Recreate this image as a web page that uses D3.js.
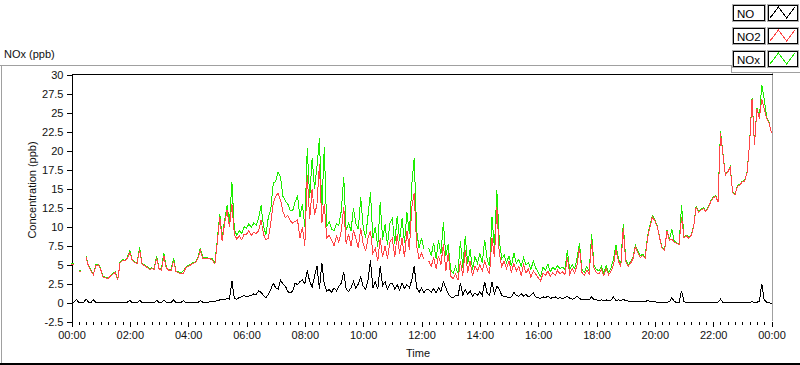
<!DOCTYPE html>
<html><head><meta charset="utf-8">
<script src="https://cdn.jsdelivr.net/npm/d3@7/dist/d3.min.js"></script>
<style>
body{margin:0;background:#fff;}
svg{display:block;font-family:"Liberation Sans",Arial,sans-serif;}
</style>
</head><body>
<svg id="chart" width="800" height="365"></svg>
<script>
// ---- data (5-minute samples from 00:00 to 24:00) ----
const startMinute = 0;
const stepMinutes = 5;

const NO2 = [
 5.1,5.0,null,4.2,4.1,null,6.0,4.8,4.2,3.7,4.9,5.0,
 4.4,3.4,3.3,3.2,3.5,3.8,4.0,3.0,5.3,5.6,5.5,5.9,
 6.6,5.6,5.3,5.2,7.0,5.1,4.9,4.7,4.4,4.5,4.4,5.9,
 4.5,4.3,6.2,4.6,4.3,4.3,5.5,4.1,4.0,3.8,3.9,4.6,
 4.8,5.0,5.2,5.3,5.8,6.9,5.9,5.9,5.8,5.8,5.6,5.1,
 8.0,11.3,8.1,10.5,12.2,10.0,13.0,9.0,8.4,8.8,8.3,9.0,
 9.0,9.5,8.9,9.3,9.1,9.5,10.9,9.0,8.3,8.5,10.5,13.1,
 14.0,14.4,13.5,12.0,11.2,11.5,10.8,10.5,10.7,10.9,8.5,10.0,
 7.5,16.8,11.0,15.0,11.5,13.0,18.2,10.5,13.0,8.5,8.9,8.3,
 7.5,8.8,8.0,9.5,12.6,7.8,9.0,7.5,9.5,8.5,7.2,9.8,
 7.8,6.8,8.5,9.5,6.5,7.2,5.5,8.5,6.0,7.5,5.8,8.0,
 8.5,6.0,9.0,6.5,8.5,6.0,9.5,7.0,12.5,14.4,7.5,5.8,
 6.5,5.8,null,5.5,4.8,6.0,4.5,6.2,5.0,7.8,4.2,6.5,
 3.5,3.2,3.8,3.0,5.5,3.6,7.0,4.0,5.5,3.5,4.8,4.2,
 5.0,4.2,5.5,4.5,3.8,8.5,6.0,12.6,6.5,4.8,5.5,4.5,
 5.5,4.0,5.2,4.2,4.8,3.6,5.0,3.9,4.5,3.4,4.2,3.8,
 3.3,2.9,3.9,3.6,4.2,3.5,4.0,3.6,4.3,3.8,4.1,3.7,
 6.0,3.8,4.5,3.9,5.0,7.2,4.0,3.6,4.3,3.8,8.2,4.5,
 4.0,3.8,4.4,3.6,4.5,3.7,4.2,5.0,7.0,5.5,4.8,9.8,
 5.5,4.8,5.2,5.8,7.4,6.6,6.0,6.2,5.9,8.5,10.0,11.3,
 10.8,10.0,8.5,7.2,6.9,9.5,8.2,8.4,8.0,7.8,7.7,11.3,
 8.6,8.8,8.5,8.9,10.0,12.6,11.9,12.2,12.4,12.0,12.5,13.3,
 13.8,14.0,13.3,22.3,19.6,16.8,17.2,17.8,14.5,14.2,15.3,15.5,
 15.9,16.0,17.2,21.0,26.8,20.8,25.5,24.2,26.8,25.5,24.3,23.6,22.3
];

const NOx = [
 5.2,5.1,null,4.3,4.2,null,6.1,4.9,4.3,3.8,5.0,5.1,
 4.5,3.5,3.4,3.3,3.6,3.9,4.1,3.1,5.4,5.7,5.6,6.0,
 6.9,5.7,5.4,5.3,7.3,5.2,5.0,4.8,4.5,4.6,4.5,6.2,
 4.6,4.4,6.6,4.7,4.4,4.4,5.9,4.2,4.1,3.9,4.2,4.7,
 4.9,5.1,5.3,5.4,5.9,7.2,6.0,6.0,5.9,5.9,5.8,5.3,
 8.3,11.7,8.6,10.9,12.8,10.5,15.9,9.6,8.9,9.5,9.1,10.0,
 9.8,10.4,9.9,10.5,10.2,11.1,12.8,10.0,9.0,11.3,12.3,15.7,
 16.0,17.2,16.5,14.0,13.4,13.0,12.1,12.1,13.3,14.0,11.3,13.0,
 10.0,20.3,13.8,19.0,15.0,17.9,21.6,12.3,20.5,10.0,10.7,9.7,
 9.5,10.4,10.2,12.1,16.6,9.6,10.5,9.5,12.4,10.4,9.7,13.9,
 10.0,8.6,11.5,14.5,8.5,10.0,7.3,13.3,8.3,10.3,7.6,10.5,
 11.1,7.8,11.4,8.2,11.1,7.9,11.9,9.0,15.5,19.0,9.5,7.2,
 8.5,7.1,null,7.2,6.2,7.9,5.8,8.2,6.5,10.6,6.2,7.7,
 4.3,3.9,4.8,3.9,8.1,4.6,8.8,5.1,7.1,4.4,6.1,5.2,
 6.5,5.2,8.3,5.8,4.8,11.3,7.2,14.8,8.3,5.8,6.3,5.3,
 6.2,4.8,6.6,5.2,5.7,4.8,5.9,5.0,5.3,4.4,5.5,4.6,
 4.0,3.5,4.7,4.3,5.1,4.1,4.7,4.4,4.9,4.5,4.7,4.4,
 6.9,4.4,5.0,4.5,5.9,7.8,4.4,4.0,4.8,4.2,9.0,4.9,
 4.4,4.2,4.8,3.9,4.9,4.0,4.6,5.8,7.6,5.9,5.1,10.3,
 5.8,5.0,5.4,6.0,7.6,6.8,6.2,6.4,6.0,8.8,10.2,11.5,
 10.9,10.1,8.6,7.3,7.0,9.6,8.3,9.7,8.1,7.9,7.8,12.8,
 8.7,8.9,8.6,9.0,10.1,12.7,12.0,12.3,12.5,12.1,12.6,13.4,
 13.9,14.1,13.4,22.6,19.7,16.9,17.3,17.9,14.6,14.3,15.4,15.6,
 16.0,16.1,17.3,21.1,26.9,20.9,25.6,24.3,28.6,26.8,24.4,23.7,22.3
];

const NO = [
 0.1,0.1,0.45,0.1,0.05,0.1,0.5,0.1,0.05,0.45,0.05,0.05,
 0.05,0.05,0.05,0.05,0.05,0.05,0.05,0.05,0.05,0.05,0.05,0.1,
 0.35,0.05,0.05,0.05,0.35,0.05,0.05,0.05,0.05,0.05,0.05,0.35,
 0.05,0.05,0.4,0.05,0.05,0.05,0.4,0.05,0.05,0.05,0.3,0.05,
 0.05,0.05,0.05,0.05,0.05,0.3,0.1,0.05,0.1,0.15,0.2,0.2,
 0.3,0.4,0.5,0.4,0.6,0.5,2.9,0.6,0.5,0.7,0.8,1.0,
 0.8,0.9,1.0,1.2,1.1,1.6,1.4,1.0,0.7,1.1,1.8,2.6,
 2.0,1.8,3.0,2.5,2.2,1.5,1.3,1.6,2.6,2.4,2.8,3.0,
 2.5,4.3,2.8,2.1,3.5,4.9,1.8,5.3,2.5,1.5,1.8,1.4,
 2.0,1.6,2.2,2.6,4.1,1.8,1.5,2.0,2.8,1.9,2.5,3.4,
 2.2,1.8,3.0,5.6,2.0,2.8,1.8,4.8,2.3,2.8,1.8,2.5,
 2.6,1.8,2.4,1.7,2.6,1.9,2.4,2.0,3.0,4.8,2.0,1.4,
 2.0,1.3,1.8,1.7,1.4,1.9,1.3,2.0,1.5,2.8,2.0,1.2,
 0.8,0.7,1.0,0.9,2.6,1.0,1.8,1.1,1.6,0.9,1.3,1.0,
 1.5,1.0,2.8,1.3,1.0,2.8,1.2,2.2,1.8,1.0,0.8,0.8,
 0.7,0.8,1.4,1.0,0.9,1.2,0.9,1.1,0.8,1.0,1.3,0.8,
 0.7,0.6,0.8,0.7,0.9,0.6,0.7,0.8,0.6,0.7,0.6,0.7,
 0.9,0.6,0.5,0.6,0.9,0.6,0.4,0.4,0.5,0.4,0.8,0.4,
 0.4,0.35,0.4,0.35,0.4,0.3,0.4,0.8,0.3,0.4,0.3,0.5,
 0.3,0.25,0.2,0.2,0.25,0.2,0.15,0.2,0.15,0.35,0.2,0.2,
 0.15,0.1,0.1,0.1,0.1,0.1,0.15,0.7,0.15,0.1,0.1,1.6,
 0.15,0.05,0.05,0.05,0.05,0.05,0.05,0.05,0.05,0.05,0.05,0.05,
 0.05,0.05,0.1,0.5,0.1,0.05,0.05,0.05,0.05,0.05,0.05,0.05,
 0.05,0.1,0.05,0.1,0.15,0.1,0.1,0.2,2.5,0.4,0.1,0.05,-0.1
];

const seriesNames = ["NO", "NO2", "NOx"];
const seriesColors = ["#000000", "#ff4545", "#1eee00"];
const yTickValues = [-2.5,0,2.5,5,7.5,10,12.5,15,17.5,20,22.5,25,27.5,30];
const xTickMinutes = [0,120,240,360,480,600,720,840,960,1080,1200,1320,1440];
const xTickLabels = ["00:00","02:00","04:00","06:00","08:00","10:00","12:00","14:00","16:00","18:00","20:00","22:00","00:00"];
const chartTitle = "NOx (ppb)";
const yTitle = "Concentration (ppb)";
const xTitle = "Time";

// ---- drawing ----
const svg = d3.select("#chart");
const plot = {left: 71.5, right: 772, top: 74.5, bottom: 322};

const x = d3.scaleLinear().domain([0, 1440]).range([plot.left, 771.5]);
const y = d3.scaleLinear().domain([-2.5, 30]).range([plot.bottom, plot.top]);

const frame = svg.append("g").attr("shape-rendering", "crispEdges");
frame.append("line").attr("x1",0).attr("x2",731).attr("y1",65.5).attr("y2",65.5).attr("stroke","#a0a0a0");
frame.append("line").attr("x1",731.5).attr("x2",731.5).attr("y1",65).attr("y2",72).attr("stroke","#a0a0a0");
frame.append("line").attr("x1",731).attr("x2",800).attr("y1",72.5).attr("y2",72.5).attr("stroke","#a0a0a0");
frame.append("line").attr("x1",1.5).attr("x2",1.5).attr("y1",65).attr("y2",363).attr("stroke","#a0a0a0");
frame.append("line").attr("x1",0).attr("x2",800).attr("y1",363.5).attr("y2",363.5).attr("stroke","#000").attr("stroke-width",2);
frame.append("line").attr("x1",772.5).attr("x2",772.5).attr("y1",72).attr("y2",321).attr("stroke","#a0a0a0");
frame.append("line").attr("x1",plot.left).attr("x2",773).attr("y1",plot.top).attr("y2",plot.top).attr("stroke","#000");

svg.append("text").attr("x",4).attr("y",58).attr("font-size","11px").attr("fill","#111").text(chartTitle);

// y axis
const yAxis = d3.axisLeft(y).tickValues(yTickValues).tickSize(5).tickSizeOuter(0).tickPadding(3)
  .tickFormat(d => String(d));
const gy = svg.append("g").attr("transform", `translate(${plot.left},0)`).attr("shape-rendering","crispEdges").call(yAxis);
gy.selectAll("text").attr("font-size","11px").attr("font-family","Liberation Sans, Arial, sans-serif").attr("fill","#111");
gy.select(".domain").attr("stroke","#000");

// x axis: minor ticks every 15 min
const minorTicks = d3.range(0, 1441, 15);
const xMinor = d3.axisBottom(x).tickValues(minorTicks).tickSize(3).tickFormat("");
const gxm = svg.append("g").attr("transform", `translate(0,${plot.bottom})`).attr("shape-rendering","crispEdges").call(xMinor);
gxm.select(".domain").remove();
const xAxis = d3.axisBottom(x).tickValues(xTickMinutes).tickSize(5).tickPadding(4)
  .tickFormat((d,i) => xTickLabels[i]);
const gx = svg.append("g").attr("transform", `translate(0,${plot.bottom})`).attr("shape-rendering","crispEdges").call(xAxis);
gx.select(".domain").remove();
gx.selectAll("text").attr("font-size","11px").attr("font-family","Liberation Sans, Arial, sans-serif").attr("fill","#111");

svg.append("text").attr("x",418).attr("y",357).attr("text-anchor","middle").attr("font-size","11px").attr("fill","#111").text(xTitle);
svg.append("text").attr("transform","translate(36,190) rotate(-90)").attr("text-anchor","middle").attr("font-size","11px").attr("fill","#111").text(yTitle);

// series
const toPts = arr => arr.map((v,i) => ({t: startMinute + i*stepMinutes, v}));
const line = d3.line().defined(d => d.v !== null).x(d => x(d.t)).y(d => y(d.v));
const seriesData = {NO: NO, NO2: NO2, NOx: NOx};
const drawOrder = ["NOx", "NO2", "NO"];
const gLines = svg.append("g");
drawOrder.forEach(name => {
  const idx = seriesNames.indexOf(name);
  gLines.append("path").datum(toPts(seriesData[name]))
    .attr("fill","none").attr("stroke", seriesColors[idx]).attr("stroke-width",1)
    .attr("shape-rendering","crispEdges")
    .attr("d", line);
});

// legend
const legTops = [4, 27, 50];
const leg = svg.append("g").attr("shape-rendering","crispEdges");
seriesNames.forEach((name, i) => {
  const g = leg.append("g").attr("transform", `translate(0,${legTops[i]})`);
  g.append("rect").attr("x",732.5).attr("y",0.5).attr("width",33).attr("height",17).attr("fill","#fff").attr("stroke","#b0b0b0");
  g.append("rect").attr("x",733.5).attr("y",1.5).attr("width",31).attr("height",15).attr("fill","#fff").attr("stroke","#000");
  g.append("text").attr("x",737).attr("y",13.5).attr("font-size","11.5px").attr("fill","#000").text(name);
  g.append("rect").attr("x",767.5).attr("y",0.5).attr("width",31).attr("height",17).attr("fill","#fff").attr("stroke","#b0b0b0");
  g.append("rect").attr("x",768.5).attr("y",1.5).attr("width",29).attr("height",15).attr("fill","#fff").attr("stroke","#000");
  const sx = d3.scaleLinear().domain([0,3]).range([770, 795]);
  const sy = d3.scaleLinear().domain([0,1]).range([14, 3]);
  const zig = [[0,0],[1,1],[2,0],[3,1]];
  g.append("path").attr("fill","none").attr("stroke",seriesColors[i]).attr("stroke-width",1)
    .attr("d", d3.line().x(d=>sx(d[0])).y(d=>sy(d[1]))(zig));
});
</script>
</body></html>
